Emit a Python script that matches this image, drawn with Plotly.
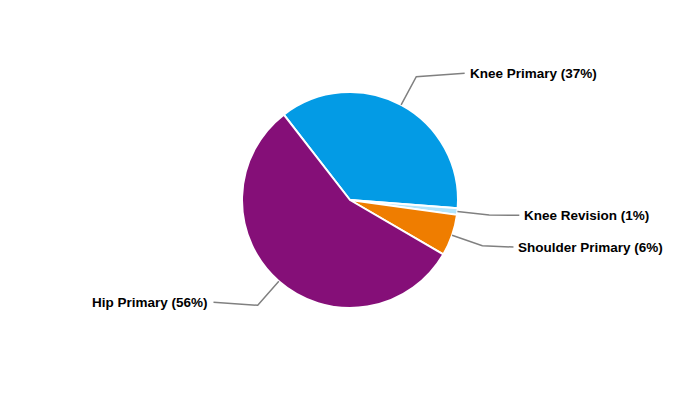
import math
import plotly.graph_objects as go

labels = ["Knee Primary", "Knee Revision", "Shoulder Primary", "Hip Primary"]
values = [36.7, 1.0, 6.2, 56.1]
colors = ["#039BE5", "#B3E5FC", "#EF7D00", "#850F78"]
start_angle = -37.8  # degrees clockwise from 12 o'clock

W, H = 700, 400
# page body has an 8px margin, so place the pie 8px up/left in figure coords
cx, cy, r = 342, 192, 108
dom_y = [(H - (cy + r)) / H, (H - (cy - r)) / H]
dom_x = [0, 2 * cx / W]

fig = go.Figure(go.Pie(
    labels=labels, values=values, sort=False, direction="clockwise",
    rotation=start_angle, marker=dict(colors=colors, line=dict(color="white", width=2)),
    textinfo="none", hoverinfo="label+percent", showlegend=False,
    domain=dict(x=dom_x, y=dom_y),
))

total = sum(values)
pct = [round(v / total * 100) for v in values]
acc = start_angle
shapes, annotations = [], []
R_label = 173
for lab, v, p in zip(labels, values, pct):
    span = v / total * 360
    mid = math.radians(acc + span / 2)
    acc += span
    s, c = math.sin(mid), -math.cos(mid)
    ex, ey = cx + r * s, cy + r * c
    bx, by = cx + (r + 32) * s, cy + (r + 32) * c
    side = 1 if s >= 0 else -1
    ly = cy + (r + (36 if side > 0 else 28)) * c
    dy = ly - cy
    lx = cx + side * math.sqrt(max(R_label ** 2 - dy ** 2, 0))
    px = lambda x: x / W
    py = lambda y: 1 - y / H
    shapes.append(dict(
        type="path", xref="paper", yref="paper",
        path=f"M {px(ex)} {py(ey)} L {px(bx)} {py(by)} L {px(lx - side * 3)} {py(ly)}",
        line=dict(color="#808080", width=1.5),
    ))
    annotations.append(dict(
        x=px(lx), y=py(ly), xref="paper", yref="paper", showarrow=False,
        text=f"<b>{lab} ({p}%)</b>", xanchor="left" if side > 0 else "right",
        yanchor="middle", font=dict(family="Liberation Sans, Arial, sans-serif", size=13.5, color="#000000"),
    ))

fig.update_layout(
    width=W, height=H, margin=dict(l=0, r=0, t=0, b=0),
    paper_bgcolor="white", plot_bgcolor="white",
    shapes=shapes, annotations=annotations,
)
fig.write_html("out.html")
